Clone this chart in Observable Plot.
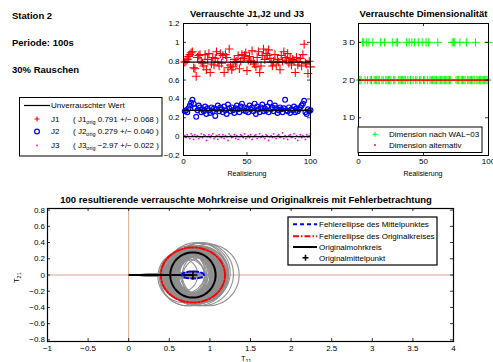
<!DOCTYPE html>
<html><head><meta charset="utf-8">
<script src="https://cdn.jsdelivr.net/npm/d3@7"></script>
<script src="https://cdn.jsdelivr.net/npm/@observablehq/plot@0.6"></script>
<style>
body{margin:0;background:#fff;}
#fig{position:relative;width:493px;height:362px;overflow:hidden;background:#fff;font-family:"Liberation Sans",Arial,Helvetica,sans-serif;}
#fig > div, #fig > svg{position:absolute;}
</style></head><body><div id="fig"></div>
<script>
// ---------- data ----------
const realisierung = Array.from({length: 100}, (_, i) => i + 1);
const J1 = [0.79,0.80,0.82,0.85,0.87,0.89,0.90,0.73,0.72,0.64, 0.84,0.86,0.87,0.80,0.78,0.75,0.87,0.71,0.82,0.88,
            0.68,0.77,0.84,0.76,0.83,0.90,0.79,0.75,0.88,0.78, 0.86,0.68,0.87,0.84,0.73,0.93,0.76,0.71,0.74,0.82,
            0.79,0.80,0.86,0.72,0.80,0.87,0.83,0.86,0.89,0.70, 0.81,0.85,0.80,0.91,0.79,0.77,0.74,0.84,0.90,0.68,
            0.75,0.86,0.93,0.82,0.88,0.86,0.92,0.83,0.79,0.75, 0.80,0.87,0.76,0.82,0.79,0.71,0.86,0.80,0.90,0.84,
            0.81,0.88,0.78,0.83,0.76,0.82,0.81,0.68,0.84,0.76, 0.79,0.83,0.75,0.87,0.98,0.78,0.77,0.67,0.80,0.74];
const J2 = [0.27,0.28,0.26,0.30,0.33,0.36,0.39,0.35,0.30,0.21, 0.28,0.33,0.31,0.26,0.29,0.27,0.32,0.24,0.30,0.28,
            0.25,0.31,0.27,0.30,0.22,0.29,0.33,0.27,0.31,0.29, 0.26,0.32,0.28,0.24,0.34,0.30,0.27,0.31,0.28,0.25,
            0.30,0.33,0.29,0.26,0.32,0.35,0.28,0.31,0.27,0.30, 0.26,0.33,0.29,0.31,0.27,0.35,0.24,0.32,0.29,0.26,
            0.31,0.34,0.27,0.30,0.28,0.32,0.26,0.36,0.29,0.31, 0.27,0.33,0.30,0.25,0.28,0.31,0.29,0.26,0.30,0.39,
            0.28,0.27,0.31,0.25,0.29,0.28,0.32,0.26,0.30,0.27, 0.29,0.31,0.33,0.35,0.38,0.26,0.24,0.29,0.27,0.28];
const J3 = [0.01,-0.01,0.02,0.00,-0.02,0.03,0.01,-0.03,0.02,0.00, 0.01,-0.02,0.00,0.03,-0.01,0.02,0.01,-0.04,0.00,0.02,
            -0.01,0.01,0.03,-0.02,0.00,0.01,-0.03,0.02,0.00,-0.01, 0.02,-0.02,0.01,0.00,-0.04,0.03,0.01,-0.01,0.00,0.02,
            -0.02,0.01,-0.03,0.00,0.02,0.01,-0.01,0.03,-0.02,0.00, 0.01,-0.01,0.02,-0.03,0.00,0.01,0.02,-0.02,0.00,0.03,
            -0.01,0.01,0.00,-0.02,0.02,0.01,-0.04,0.00,0.01,-0.01, 0.03,0.00,-0.02,0.01,0.02,-0.01,0.00,0.04,-0.02,0.01,
            0.00,-0.03,0.01,0.02,-0.01,0.00,0.03,-0.02,0.01,-0.04, 0.00,0.02,-0.01,0.01,0.00,-0.03,0.02,0.00,0.01,0.03];
const unverrauscht = [0.791, 0.279, 0.0];          // reference lines drawn in the J panel
const legendNames = ["J1", "J2", "J3"];
const legendOrig = ["0.791 +/\u2212 0.068", "0.279 +/\u2212 0.040", "\u22122.97 +/\u2212 0.022"];
const dim3D = [3,4,6,8,11,17,20,26,29,30,37,39,41,43,46,49,52,54,61,72,73,74,78,83,90,100];
const dimWAL = realisierung.map(r => dim3D.includes(r) ? 3 : 2);
const dimAlt = realisierung.map(() => 2);
const dimTicks = [1, 2, 3];
const dimTickLabels = ["1 D", "2 D", "3 D"];
const jTicksY = [-0.2, 0, 0.2, 0.4, 0.6, 0.8, 1, 1.2];
const realTicks = [0, 50, 100];
const mohrTicksX = [-1, -0.5, 0, 0.5, 1, 1.5, 2, 2.5, 3, 3.5, 4];
const mohrTicksY = [-0.8, -0.6, -0.4, -0.2, 0, 0.2, 0.4, 0.6, 0.8];
const origMittelpunkt = [0.791, 0.0];
const origRadius = 0.279;
const ellipseMittelpunkt = [0.136, 0.044];   // semi-axes
const ellipseOriginal = [0.395, 0.34];       // semi-axes
const titles = ["Verrauschte  J1,J2 und J3", "Verrauschte Dimensionalit\u00e4t",
  "100 resultierende verrauschte Mohrkreise und Originalkreis mit Fehlerbetrachtung"];
const infoLines = ["Station 2", "Periode: 100s", "30% Rauschen"];

// ---------- helpers ----------
const FONT = '"Liberation Sans", Arial, Helvetica, sans-serif';
const fmt = d => String(+(+d).toFixed(2)).replace("-", "\u2212");
const fig = document.getElementById("fig");
function place(el, left, top) { el.style.left = left + "px"; el.style.top = top + "px"; fig.appendChild(el); }
function boxTicks(xt, yt, iw, ih, len = 3) {
  return [
    Plot.tickX(xt, {x: d => d, insetTop: ih - len, stroke: "black", strokeWidth: 0.8}),
    Plot.tickX(xt, {x: d => d, insetBottom: ih - len, stroke: "black", strokeWidth: 0.8}),
    Plot.tickY(yt, {y: d => d, insetRight: iw - len, stroke: "black", strokeWidth: 0.8}),
    Plot.tickY(yt, {y: d => d, insetLeft: iw - len, stroke: "black", strokeWidth: 0.8})
  ];
}
const style = {fontFamily: FONT, fontSize: "8px", background: "transparent", overflow: "visible"};
const angles = d3.range(0, 361, 4).map(a => a * Math.PI / 180);

// ---------- panel 1: J1, J2, J3 ----------
const jRows = realisierung.map((r, i) => ({r, J1: J1[i], J2: J2[i], J3: J3[i]}));
{
  const W = 170, H = 185, mL = 33, mR = 10, mT = 23, mB = 30;
  const p = Plot.plot({
    width: W, height: H, marginLeft: mL, marginRight: mR, marginTop: mT, marginBottom: mB, style,
    x: {domain: [0, 100]}, y: {domain: [-0.2, 1.2]},
    marks: [
      Plot.dot(jRows, {x: "r", y: "J3", r: 0.9, fill: "#ff00ff", stroke: null}),
      Plot.dot(jRows, {x: "r", y: "J2", r: 2.4, stroke: "#0000ff", strokeWidth: 1.2, fill: "none"}),
      Plot.dot(jRows, {x: "r", y: "J1", symbol: "plus", r: 2.9, stroke: "#ff0000", strokeWidth: 1.1}),
      Plot.ruleY(unverrauscht, {stroke: "black", strokeWidth: 1.3}),
      ...boxTicks(realTicks, jTicksY, W - mL - mR, H - mT - mB),
      Plot.frame({stroke: "black", strokeWidth: 1}),
      Plot.axisX(realTicks, {tickSize: 0, tickPadding: 3, tickFormat: fmt, label: null}),
      Plot.axisY(jTicksY, {tickSize: 0, tickPadding: 4, tickFormat: fmt, label: null})
    ]
  });
  place(p, 150, 0);
}

// ---------- panel 2: dimensionality ----------
const dimRows = realisierung.map((r, i) => ({r, wal: dimWAL[i], alt: dimAlt[i]}));
{
  const W = 163, H = 185, mL = 28, mR = 5, mT = 23, mB = 30;
  const p = Plot.plot({
    width: W, height: H, marginLeft: mL, marginRight: mR, marginTop: mT, marginBottom: mB, style,
    x: {domain: [0, 100]}, y: {domain: [0, 3.5]},
    marks: [
      Plot.dot(dimRows, {x: "r", y: "wal", symbol: "plus", r: 2.8, stroke: "#00ff00", strokeWidth: 1}),
      Plot.dot(dimRows, {x: "r", y: "alt", r: 0.9, fill: "#ff0000", stroke: null}),
      ...boxTicks(realTicks, dimTicks, W - mL - mR, H - mT - mB),
      Plot.frame({stroke: "black", strokeWidth: 1}),
      Plot.axisX(realTicks, {tickSize: 0, tickPadding: 3, tickFormat: fmt, label: null}),
      Plot.axisY(dimTicks, {tickSize: 0, tickPadding: 3.5, tickFormat: d => dimTickLabels[dimTicks.indexOf(d)], label: null})
    ]
  });
  place(p, 330, 0);
}

// ---------- panel 3: Mohr circles ----------
{
  const W = 493, H = 177, mL = 47, mR = 40, mT = 23, mB = 21;
  const kreise = J1.flatMap((c, i) => angles.map(a => ({i, x: c + J2[i] * Math.cos(a), y: J3[i] + J2[i] * Math.sin(a)})));
  const strahlen = J1.map((c, i) => ({x1: 0, y1: 0, x2: c, y2: J3[i]}));
  const [cx, cy] = origMittelpunkt;
  const origKreis = angles.map(a => ({x: cx + origRadius * Math.cos(a), y: cy + origRadius * Math.sin(a)}));
  const ellM = angles.map(a => ({x: cx + ellipseMittelpunkt[0] * Math.cos(a), y: cy + ellipseMittelpunkt[1] * Math.sin(a)}));
  const ellO = angles.map(a => ({x: cx + ellipseOriginal[0] * Math.cos(a), y: cy + ellipseOriginal[1] * Math.sin(a)}));
  const p = Plot.plot({
    width: W, height: H, marginLeft: mL, marginRight: mR, marginTop: mT, marginBottom: mB, style,
    x: {domain: [-1, 4]}, y: {domain: [-0.82, 0.82]},
    marks: [
      Plot.ruleX([0], {stroke: "#d4906c", strokeWidth: 0.8}),
      Plot.ruleY([0], {stroke: "#d4906c", strokeWidth: 0.8}),
      Plot.link(strahlen, {x1: "x1", y1: "y1", x2: "x2", y2: "y2", stroke: "#8f8f8f", strokeWidth: 0.9}),
      Plot.line(kreise, {x: "x", y: "y", z: "i", stroke: "#8f8f8f", strokeWidth: 1.1, curve: "linear"}),
      Plot.line(ellO, {x: "x", y: "y", stroke: "#ff0000", strokeWidth: 2, strokeDasharray: "6,2,1.5,2"}),
      Plot.line(origKreis, {x: "x", y: "y", stroke: "black", strokeWidth: 2}),
      Plot.link([origMittelpunkt], {x1: 0, y1: 0, x2: d => d[0], y2: d => d[1], stroke: "black", strokeWidth: 2}),
      Plot.line(ellM, {x: "x", y: "y", stroke: "#0000ff", strokeWidth: 2, strokeDasharray: "4,3"}),
      Plot.dot([origMittelpunkt], {x: d => d[0], y: d => d[1], symbol: "plus", r: 3, stroke: "black", strokeWidth: 1.6}),
      ...boxTicks(mohrTicksX, mohrTicksY, W - mL - mR, H - mT - mB),
      Plot.frame({stroke: "black", strokeWidth: 1.2}),
      Plot.axisX(mohrTicksX, {tickSize: 0, tickPadding: 4, tickFormat: fmt, label: null}),
      Plot.axisY(mohrTicksY, {tickSize: 0, tickPadding: 2.5, tickFormat: fmt, label: null})
    ]
  });
  place(p, 0, 185);
}

// ---------- overlay: texts & legends ----------
const svg = d3.create("svg").attr("width", 493).attr("height", 362)
  .style("left", "0px").style("top", "0px").style("font-family", FONT).style("pointer-events", "none");
fig.appendChild(svg.node());
const bold = (x, y, t, anchor = "start") => svg.append("text").attr("x", x).attr("y", y)
  .attr("font-size", 9.5).attr("font-weight", "bold").attr("text-anchor", anchor).text(t);
bold(12, 19, infoLines[0]); bold(12, 46.3, infoLines[1]); bold(12, 73, infoLines[2]);
bold(247, 16.5, titles[0], "middle"); bold(423.5, 16.5, titles[1], "middle"); bold(246, 202.7, titles[2], "middle");
svg.append("text").attr("x", 247).attr("y", 175.5).attr("font-size", 7).attr("text-anchor", "middle").text("Realisierung");
svg.append("text").attr("x", 423).attr("y", 175.5).attr("font-size", 7).attr("text-anchor", "middle").text("Realisierung");
// axis labels with subscripts
{
  const t = svg.append("text").attr("x", 241).attr("y", 361).attr("font-size", 7.5);
  t.append("tspan").text("T"); t.append("tspan").attr("font-size", 5.5).attr("dy", 1.5).text("11");
  const t2 = svg.append("text").attr("transform", "translate(19,283) rotate(-90)").attr("font-size", 7.5);
  t2.append("tspan").text("T"); t2.append("tspan").attr("font-size", 5.5).attr("dy", 2).text("21");
}
// legend J panel
{
  const g = svg.append("g").attr("font-size", 8);
  g.append("rect").attr("x", 19.5).attr("y", 97.5).attr("width", 142.5).attr("height", 58.5).attr("fill", "white").attr("stroke", "black").attr("stroke-width", 1);
  g.append("line").attr("x1", 24).attr("x2", 50).attr("y1", 105.5).attr("y2", 105.5).attr("stroke", "black").attr("stroke-width", 1.2);
  g.append("text").attr("x", 51).attr("y", 108.3).text("Unverrauschter Wert");
  const ys = [119, 131.5, 145.5];
  g.append("path").attr("d", `M34.5,${ys[0]}h5M37,${ys[0]-2.5}v5`).attr("stroke", "#ff0000").attr("stroke-width", 1.1);
  g.append("circle").attr("cx", 37).attr("cy", ys[1]).attr("r", 2.4).attr("fill", "none").attr("stroke", "#0000ff").attr("stroke-width", 1.2);
  g.append("circle").attr("cx", 37).attr("cy", ys[2]).attr("r", 0.9).attr("fill", "#ff00ff");
  legendNames.forEach((n, i) => {
    g.append("text").attr("x", 51).attr("y", ys[i] + 2.5).text(n);
    const t = g.append("text").attr("x", 73).attr("y", ys[i] + 2.5);
    t.append("tspan").text("( " + n);
    t.append("tspan").attr("font-size", 5.5).attr("dy", 2.2).text("orig");
    t.append("tspan").attr("dy", -2.2).text(" " + legendOrig[i] + " )");
  });
}
// legend dim panel
{
  const g = svg.append("g").attr("font-size", 8);
  g.append("rect").attr("x", 358).attr("y", 127).attr("width", 124).attr("height", 25.5).attr("fill", "white").attr("stroke", "black").attr("stroke-width", 1);
  g.append("path").attr("d", "M372.5,134.3h5M375,131.8v5").attr("stroke", "#00ff00").attr("stroke-width", 1);
  g.append("circle").attr("cx", 375).attr("cy", 145).attr("r", 0.9).attr("fill", "#ff0000");
  g.append("text").attr("x", 389).attr("y", 137).text("Dimension nach WAL\u221203");
  g.append("text").attr("x", 389).attr("y", 147.8).text("Dimension alternativ");
}
// legend Mohr panel
{
  const g = svg.append("g").attr("font-size", 8);
  g.append("rect").attr("x", 288).attr("y", 217).attr("width", 149).attr("height", 48).attr("fill", "white").attr("stroke", "black").attr("stroke-width", 1.2);
  const ys = [224.3, 236.2, 247, 257.7];
  const labels = ["Fehlerellipse des Mittelpunktes", "Fehlerellipse des Originalkreises", "Originalmohrkreis", "Originalmittelpunkt"];
  g.append("line").attr("x1", 293).attr("x2", 317).attr("y1", ys[0]).attr("y2", ys[0]).attr("stroke", "#0000ff").attr("stroke-width", 2).attr("stroke-dasharray", "4,3");
  g.append("line").attr("x1", 293).attr("x2", 317).attr("y1", ys[1]).attr("y2", ys[1]).attr("stroke", "#ff0000").attr("stroke-width", 2).attr("stroke-dasharray", "6,2,1.5,2");
  g.append("line").attr("x1", 293).attr("x2", 317).attr("y1", ys[2]).attr("y2", ys[2]).attr("stroke", "black").attr("stroke-width", 2);
  g.append("path").attr("d", `M302.5,${ys[3]}h6M305.5,${ys[3]-3}v6`).attr("stroke", "black").attr("stroke-width", 1.6);
  labels.forEach((l, i) => g.append("text").attr("x", 319).attr("y", ys[i] + 2.8).text(l));
}
</script></body></html>
